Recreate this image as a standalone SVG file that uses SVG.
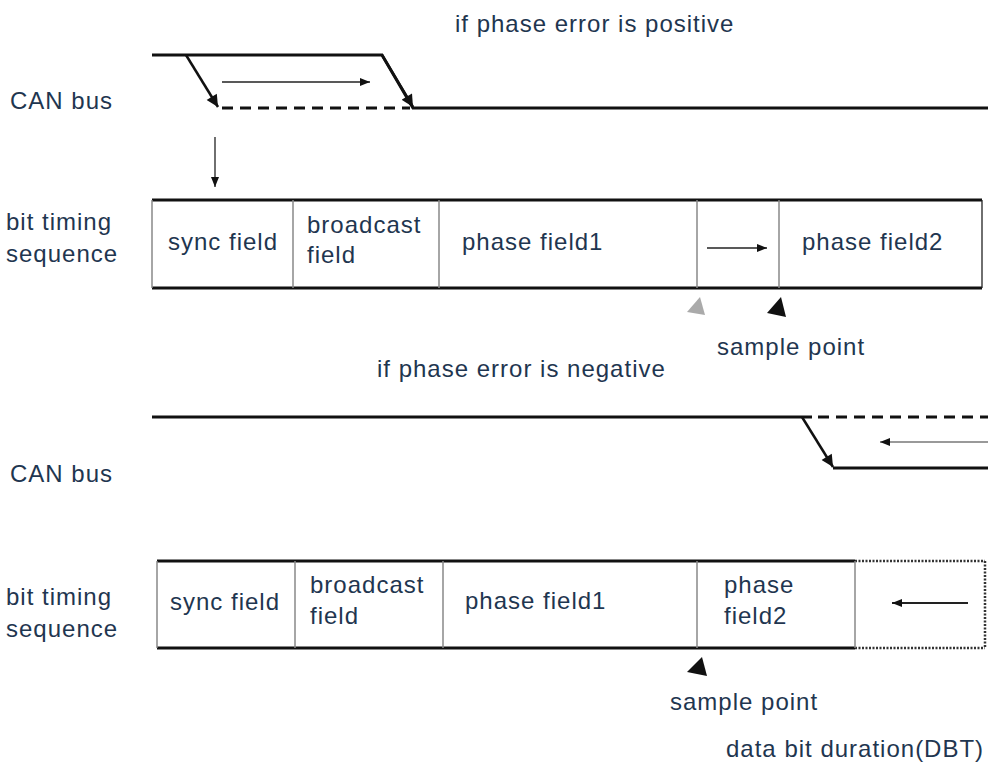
<svg xmlns="http://www.w3.org/2000/svg" width="988" height="765" viewBox="0 0 988 765">
<style>
text{font-family:"Liberation Sans",Arial,sans-serif;font-size:24px;fill:#1f3650;letter-spacing:1px}
.bus{stroke:#111;stroke-width:3;fill:none}
.dash{stroke:#111;stroke-width:3;fill:none;stroke-dasharray:11,7}
.thin{stroke:#222;stroke-width:1.3;fill:none}
.grey{stroke:#888;stroke-width:1.5;fill:none}
.frame{stroke:#111;stroke-width:3;fill:none}
.dot{stroke:#333;stroke-width:2.5;fill:none;stroke-dasharray:2,1.5}
</style>
<defs>
<marker id="ah" viewBox="0 0 10 10" refX="10" refY="5" markerWidth="10" markerHeight="10" markerUnits="userSpaceOnUse" orient="auto">
<path d="M0,1 L10,5 L0,9 Z" fill="#111"/>
</marker>
<marker id="ahb" viewBox="0 0 10 10" refX="10" refY="5" markerWidth="14" markerHeight="12" markerUnits="userSpaceOnUse" orient="auto">
<path d="M0,0 L10,5 L0,10 Z" fill="#111"/>
</marker>
</defs>

<g id="labels">
<text x="455" y="32">if phase error is positive</text>
<text x="10" y="109">CAN bus</text>
<text x="6" y="230">bit timing</text>
<text x="6" y="262">sequence</text>
<text x="377" y="377">if phase error is negative</text>
<text x="10" y="482">CAN bus</text>
<text x="6" y="605">bit timing</text>
<text x="6" y="637">sequence</text>
</g>

<g id="connectors">
<!-- top CAN bus -->
<polyline class="bus" points="152,55 382,55 413,108 988,108"/>
<line class="dash" x1="222" y1="108" x2="410" y2="108"/>
<line x1="186" y1="55" x2="218" y2="107" stroke="#111" stroke-width="2.5" marker-end="url(#ahb)"/>
<line x1="382" y1="55" x2="413" y2="107" stroke="#111" stroke-width="2.5" marker-end="url(#ahb)"/>
<line class="thin" x1="222" y1="82" x2="370" y2="82" marker-end="url(#ah)"/>
<line class="thin" x1="215" y1="137" x2="215" y2="187" marker-end="url(#ah)"/>
<!-- bottom CAN bus -->
<line class="bus" x1="152" y1="417" x2="812" y2="417"/>
<line class="dash" x1="818" y1="417" x2="988" y2="417"/>
<polyline class="bus" points="833,468 988,468"/>
<line x1="802" y1="417" x2="833" y2="467" stroke="#111" stroke-width="2.5" marker-end="url(#ahb)"/>
<line x1="988" y1="442" x2="880" y2="442" stroke="#777" stroke-width="1.5" marker-end="url(#ah)"/>
</g>

<g id="seq1">
<line class="frame" x1="152" y1="200" x2="982" y2="200"/>
<line class="frame" x1="152" y1="288" x2="982" y2="288"/>
<line class="grey" x1="152" y1="200" x2="152" y2="288"/>
<line class="thin" x1="982" y1="200" x2="982" y2="288"/>
<line class="grey" x1="293" y1="200" x2="293" y2="288"/>
<line class="grey" x1="439" y1="200" x2="439" y2="288"/>
<line class="grey" x1="697" y1="200" x2="697" y2="288"/>
<line class="grey" x1="779" y1="200" x2="779" y2="288"/>
<text x="168" y="250">sync field</text>
<text x="307" y="233">broadcast</text>
<text x="307" y="263">field</text>
<text x="462" y="250">phase field1</text>
<line class="thin" x1="707" y1="248" x2="767" y2="248" marker-end="url(#ah)"/>
<text x="802" y="250">phase field2</text>
<polygon points="700,297 687,312 705,315" fill="#aaa"/>
<polygon points="781,297 767,313 786,317" fill="#111"/>
<text x="717" y="355">sample point</text>
</g>

<g id="seq2">
<line class="frame" x1="157" y1="561" x2="855" y2="561"/>
<line class="frame" x1="157" y1="648" x2="855" y2="648"/>
<line class="dot" x1="855" y1="561" x2="985" y2="561"/>
<line class="dot" x1="855" y1="648" x2="985" y2="648"/>
<line class="dot" x1="985" y1="561" x2="985" y2="648"/>
<line class="grey" x1="157" y1="561" x2="157" y2="648"/>
<line class="grey" x1="295" y1="561" x2="295" y2="648"/>
<line class="grey" x1="443" y1="561" x2="443" y2="648"/>
<line class="grey" x1="697" y1="561" x2="697" y2="648"/>
<line class="grey" x1="855" y1="561" x2="855" y2="648"/>
<text x="170" y="610">sync field</text>
<text x="310" y="593">broadcast</text>
<text x="310" y="624">field</text>
<text x="465" y="609">phase field1</text>
<text x="724" y="593">phase</text>
<text x="724" y="624">field2</text>
<line x1="968" y1="603" x2="892" y2="603" stroke="#222" stroke-width="2" marker-end="url(#ah)"/>
<polygon points="702,657 687,672 707,676" fill="#111"/>
<text x="670" y="710">sample point</text>
<text x="726" y="757">data bit duration(DBT)</text>
</g>
</svg>
